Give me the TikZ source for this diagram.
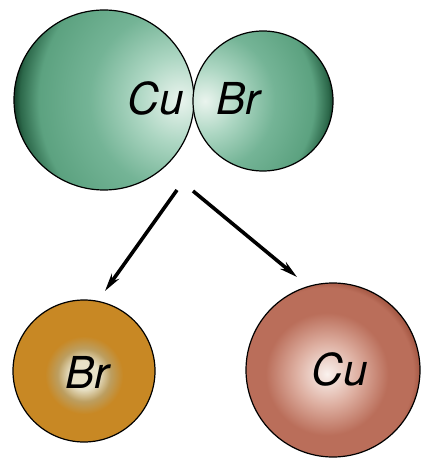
\documentclass[tikz,border=0pt]{standalone}
\usepackage{fontspec}
\setmainfont{TeX Gyre Heros}
\usetikzlibrary{arrows.meta,calc}
\definecolor{gHL}{RGB}{234,244,238}
\definecolor{gLt}{RGB}{172,214,194}
\definecolor{gMid}{RGB}{116,180,150}
\definecolor{gMid2}{RGB}{92,162,128}
\definecolor{gDk}{RGB}{44,104,74}
\definecolor{gEdge}{RGB}{14,50,32}
\definecolor{oHL}{RGB}{232,226,200}
\definecolor{oLt}{RGB}{188,158,96}
\definecolor{oMid}{RGB}{200,136,36}
\definecolor{oEdge}{RGB}{182,120,28}
\definecolor{rHL}{RGB}{250,242,238}
\definecolor{rLt}{RGB}{222,176,162}
\definecolor{rMid}{RGB}{186,110,90}
\definecolor{rEdge}{RGB}{155,78,58}
\pgfdeclareradialshading{greenball}{\pgfpoint{0bp}{0bp}}{color(0bp)=(gHL); color(6.5bp)=(gLt); color(13.5bp)=(gMid); color(21bp)=(gMid2); color(23.8bp)=(gDk); color(25bp)=(gEdge); color(50bp)=(gEdge)}
\pgfdeclareradialshading{orangeball}{\pgfpoint{0bp}{0bp}}{color(0bp)=(oHL); color(4.5bp)=(oHL); color(8.5bp)=(oLt); color(12.5bp)=(oMid); color(23.5bp)=(oMid); color(25bp)=(oEdge); color(50bp)=(oEdge)}
\pgfdeclareradialshading{redball}{\pgfpoint{0bp}{0bp}}{color(0bp)=(rHL); color(8bp)=(rLt); color(16bp)=(rMid); color(22.5bp)=(rMid); color(25bp)=(rEdge); color(50bp)=(rEdge)}
\tikzset{
  atom/.style={circle, draw=black, line width=1.2pt, inner sep=0pt},
  sym/.style={font=\fontsize{44}{44}\selectfont\itshape, inner sep=0pt},
  react/.style={line width=3.6pt, -{Stealth[length=18pt, width=9pt, inset=6pt]}}
}
\begin{document}
\begin{tikzpicture}[x=1pt,y=-1pt]
\useasboundingbox (0,0) rectangle (423,462);
% molecule
\node[atom, minimum size=180pt, path picture={\shade[shading=greenball] ([xshift=76pt]path picture bounding box.center) circle (168pt);}] (cu1) at (104,100) {};
\node[atom, minimum size=140pt, path picture={\shade[shading=greenball] ([xshift=-58pt]path picture bounding box.center) circle (130pt);}] (br1) at (263,101) {};
\node[sym] (cu1t) at (156,98) {Cu};
\node[sym] (br1t) at (238,98) {Br};
% products
\node[atom, minimum size=142pt, path picture={\shade[shading=orangeball] ([yshift=-4pt]path picture bounding box.center) circle (78pt);}] (br2) at (84,371) {};
\node[atom, minimum size=174pt, path picture={\shade[shading=redball] ([xshift=-6pt,yshift=-4pt]path picture bounding box.center) circle (96pt);}] (cu2) at (333,370) {};
\node[sym] (br2t) at (87,372) {Br};
\node[sym] (cu2t) at (340,369) {Cu};
% arrows
\coordinate (a1s) at (177,190);
\coordinate (a1e) at (105,291);
\coordinate (a2s) at (193,191);
\coordinate (a2e) at (297,277);
\draw[react] (a1s) -- (a1e);
\draw[react] (a2s) -- (a2e);
\end{tikzpicture}
\end{document}
